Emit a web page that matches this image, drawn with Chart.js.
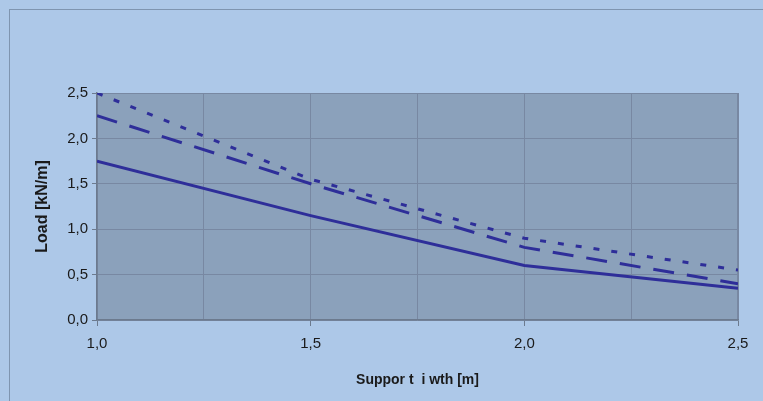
<!DOCTYPE html>
<html>
<head>
<meta charset="utf-8">
<script src="https://cdn.jsdelivr.net/npm/chart.js@4"></script>
<style>
  html, body { margin: 0; padding: 0; background: #adc8e8; }
  #wrap { position: relative; width: 763px; height: 401px; overflow: hidden; }
  #frame { position: absolute; left: 9px; top: 9px; width: 800px; height: 420px;
           border-left: 1px solid #7f95b0; border-top: 1px solid #7f95b0; }
  canvas { position: absolute; left: 0; top: 0; }
</style>
</head>
<body>
<div id="wrap">
  <div id="frame"></div>
  <canvas id="chart" width="763" height="401"></canvas>
</div>
<script>
// support width [m]
var widths = [1.0, 1.5, 2.0, 2.5];
// load [kN/m] for the three curves
var loadSolid = [1.75, 1.15, 0.60, 0.35];
var loadLongDash = [2.25, 1.50, 0.80, 0.40];
var loadShortDash = [2.50, 1.55, 0.90, 0.55];

var xTitle = 'Suppor t  i wth [m]';
var yTitle = 'Load [kN/m]';

function points(vals) {
    return widths.map(function (w, i) { return { x: w, y: vals[i] }; });
}

function isMajor(v) {
    return Math.abs(v * 2 - Math.round(v * 2)) < 1e-6;
}

function fmt(v) {
    return v.toFixed(1).replace('.', ',');
}

var lineColor = '#2e2e99';
var gridColor = '#7888a2';

var plotBg = {
    id: 'plotBg',
    beforeDraw: function (chart) {
        var a = chart.chartArea, c = chart.ctx;
        c.save();
        c.fillStyle = '#8ba1bb';
        c.fillRect(a.left, a.top, a.right - a.left, a.bottom - a.top);
        c.strokeStyle = gridColor;
        c.lineWidth = 1;
        c.beginPath();
        c.moveTo(a.left, a.top + 0.5);
        c.lineTo(a.right - 0.5, a.top + 0.5);
        c.lineTo(a.right - 0.5, a.bottom);
        c.stroke();
        c.restore();
    }
};

var ctx = document.getElementById('chart').getContext('2d');
new Chart(ctx, {
    type: 'line',
    data: {
        datasets: [{
            data: points(loadShortDash),
            borderColor: lineColor,
            borderWidth: 3,
            borderDash: [6, 12],
            pointRadius: 0,
            tension: 0,
            fill: false
        }, {
            data: points(loadLongDash),
            borderColor: lineColor,
            borderWidth: 3,
            borderDash: [21, 13],
            pointRadius: 0,
            tension: 0,
            fill: false
        }, {
            data: points(loadSolid),
            borderColor: lineColor,
            borderWidth: 3,
            pointRadius: 0,
            tension: 0,
            fill: false
        }]
    },
    options: {
        responsive: false,
        animation: false,
        layout: { padding: { left: 33, top: 93, right: 25, bottom: 12 } },
        plugins: {
            legend: { display: false },
            tooltip: { enabled: false }
        },
        scales: {
            x: {
                type: 'linear',
                min: 1,
                max: 2.5,
                afterFit: function (s) { s.height = 69; },
                border: { color: '#6c7a8e', width: 1.5 },
                grid: {
                    color: gridColor,
                    tickLength: 6,
                    tickColor: function (c) { return c.tick && isMajor(c.tick.value) ? '#6c7a8e' : 'rgba(0,0,0,0)'; }
                },
                ticks: {
                    stepSize: 0.25,
                    autoSkip: false,
                    maxRotation: 0,
                    padding: 9,
                    color: '#1a1a1a',
                    font: { family: 'Liberation Sans', size: 15 },
                    callback: function (v) { return isMajor(v) ? fmt(v) : ''; }
                },
                title: {
                    display: true,
                    text: xTitle,
                    color: '#1a1a1a',
                    padding: { top: 10, bottom: 0 },
                    font: { family: 'Liberation Sans', size: 14, weight: 'bold' }
                }
            },
            y: {
                min: 0,
                max: 2.5,
                afterFit: function (s) { s.width = 64; },
                border: { color: '#6c7a8e', width: 1.5 },
                grid: {
                    color: gridColor,
                    tickLength: 5,
                    tickColor: '#6c7a8e'
                },
                ticks: {
                    stepSize: 0.5,
                    padding: 4,
                    color: '#1a1a1a',
                    font: { family: 'Liberation Sans', size: 15 },
                    callback: function (v) { return fmt(v); }
                },
                title: {
                    display: true,
                    text: yTitle,
                    color: '#1a1a1a',
                    padding: 0,
                    font: { family: 'Liberation Sans', size: 16, weight: 'bold' }
                }
            }
        }
    },
    plugins: [plotBg]
});
</script>
</body>
</html>
